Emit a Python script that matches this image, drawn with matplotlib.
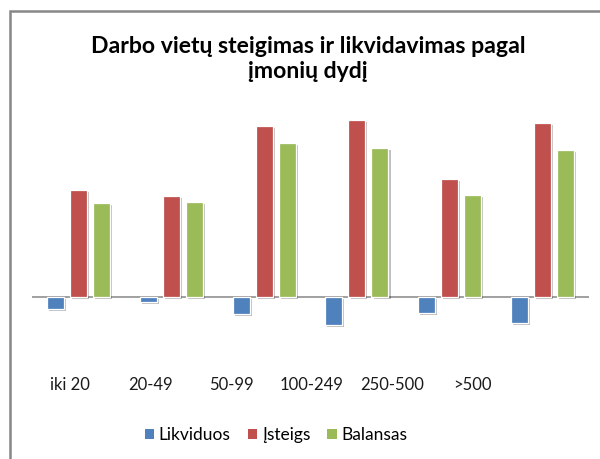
import matplotlib
matplotlib.use("Agg")
import matplotlib.pyplot as plt
import matplotlib.patheffects as pe
from matplotlib.patches import Rectangle
import numpy as np

categories = ["iki 20", "20-49", "50-99", "100-249", "250-500", ">500"]
likviduos = [-12, -5, -17, -28, -16, -26]
isteigs = [107, 101, 171, 177, 118, 174]
balansas = [94, 95, 154, 149, 102, 147]
series_names = ["Likviduos", "Įsteigs", "Balansas"]
colors = ["#4F81BD", "#C0504D", "#9BBB59"]

W, H = 600, 459
fig = plt.figure(figsize=(W / 100, H / 100), dpi=100)
fig.patch.set_facecolor("white")

FONT = ["Lato", "DejaVu Sans"]

# chart frame (extends beyond the right and bottom edges)
fig.add_artist(Rectangle((10 / W, -0.1), 1.2, (H - 11) / H + 0.1,
                         transform=fig.transFigure, fill=False,
                         edgecolor="#878787", linewidth=1.8))

ax = fig.add_axes([32 / W, (H - 345) / H, (589 - 32) / W, 245 / H])
ax.set_facecolor("none")
x = np.arange(len(categories))
width = 0.183
step = 0.248
shadow = [pe.SimplePatchShadow(offset=(1.5, -1.5), alpha=0.25, shadow_rgbFace="black"),
          pe.Normal()]
for i, (vals, col, name) in enumerate(zip([likviduos, isteigs, balansas], colors, series_names)):
    bars = ax.bar(x + (i - 1) * step, vals, width, color=col, edgecolor="white",
                  linewidth=0.9, label=name, zorder=3)
    for b in bars:
        b.set_path_effects(shadow)

ax.set_xlim(-0.5, len(categories) - 0.5)
ax.set_ylim(-48, 197)
ax.axhline(0, color="#868686", linewidth=1.1, zorder=2)
for s in ax.spines.values():
    s.set_visible(False)
ax.set_yticks([])
label_pos = np.arange(len(categories)) * 0.867 - 0.09
ax.set_xticks(label_pos)
ax.set_xticklabels(categories, fontsize=12, family=FONT, color="#1a1a1a")
ax.tick_params(axis="x", length=0, pad=23)

fig.text(0.5 * (88 + 528) / W, 1 - 59 / H,
         "Darbo vietų steigimas ir likvidavimas pagal\nįmonių dydį",
         ha="center", va="center", fontsize=16.6, fontweight="bold",
         family=FONT, linespacing=1.25, color="black")

leg = ax.legend(loc="center", bbox_to_anchor=(276 / W, 1 - 435 / H),
                bbox_transform=fig.transFigure, ncol=3, frameon=False,
                prop={"family": FONT, "size": 12.5}, handlelength=0.55,
                handleheight=0.55, handletextpad=0.25, columnspacing=1.0)
for h in leg.legend_handles:
    h.set_path_effects([])
    h.set_edgecolor("none")

fig.savefig("out.png", dpi=100, facecolor="white")
